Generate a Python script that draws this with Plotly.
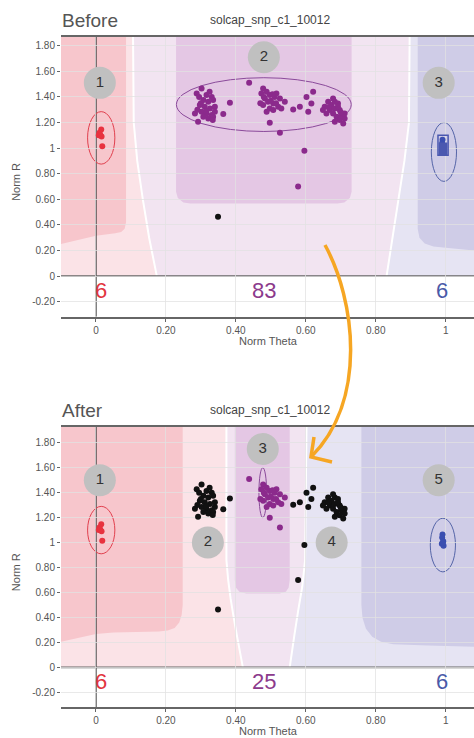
import plotly.graph_objects as go

# ---------------- data ----------------
red_theta = [0.015, 0.010, 0.008, 0.016, 0.012, 0.018]
red_r = [1.146, 1.120, 1.100, 1.090, 1.105, 1.015]

blue_theta = [0.991, 0.990, 0.993, 0.989, 0.994, 0.992]
blue_r = [1.065, 1.040, 1.010, 0.990, 0.975, 1.000]

left_theta = [0.288, 0.302, 0.316, 0.331, 0.307, 0.321, 0.335, 0.297, 0.311, 0.326,
              0.340, 0.302, 0.316, 0.331, 0.283, 0.292, 0.321, 0.335, 0.383, 0.364,
              0.295, 0.340, 0.307, 0.300, 0.315, 0.325, 0.290, 0.334]
left_r = [1.427, 1.466, 1.414, 1.400, 1.375, 1.362, 1.375, 1.336, 1.323, 1.310,
          1.323, 1.284, 1.271, 1.258, 1.271, 1.206, 1.232, 1.245, 1.354, 1.266,
          1.400, 1.284, 1.245, 1.350, 1.290, 1.440, 1.300, 1.220]

mid_theta = [0.438, 0.478, 0.488, 0.473, 0.497, 0.483, 0.516, 0.511, 0.526, 0.492,
             0.507, 0.540, 0.478, 0.497, 0.521, 0.488, 0.507, 0.497, 0.526, 0.480,
             0.500, 0.515, 0.470, 0.530, 0.505]
mid_r = [1.510, 1.466, 1.440, 1.427, 1.414, 1.388, 1.427, 1.400, 1.388, 1.362,
         1.349, 1.362, 1.336, 1.310, 1.323, 1.284, 1.297, 1.198, 1.120, 1.400,
         1.370, 1.350, 1.350, 1.310, 1.420]

right_theta = [0.564, 0.583, 0.602, 0.621, 0.607, 0.616, 0.654, 0.664, 0.673, 0.683,
               0.692, 0.669, 0.683, 0.697, 0.659, 0.678, 0.688, 0.702, 0.711, 0.697,
               0.683, 0.707, 0.649, 0.678, 0.692, 0.711, 0.665, 0.700]
right_r = [1.302, 1.323, 1.400, 1.440, 1.284, 1.349, 1.323, 1.362, 1.336, 1.362,
           1.349, 1.297, 1.310, 1.297, 1.271, 1.271, 1.245, 1.258, 1.232, 1.219,
           1.206, 1.193, 1.297, 1.388, 1.323, 1.271, 1.320, 1.280]

low_theta = [0.596, 0.578]
low_r = [0.980, 0.700]
nocall_theta = [0.349]
nocall_r = [0.463]

before_counts = ["6", "83", "6"]
after_counts = ["6", "25", "6"]
count_theta = [0.015, 0.48, 0.99]
count_colors = ["#e2343f", "#8c3a8c", "#4a5aa8"]

before_labels = ["1", "2", "3"]
before_label_theta = [0.011, 0.48, 0.98]
before_label_r = [1.51, 1.71, 1.51]
after_labels = ["1", "2", "3", "4", "5"]
after_label_theta = [0.011, 0.32, 0.477, 0.674, 0.98]
after_label_r = [1.50, 1.00, 1.75, 1.00, 1.50]

# cluster ellipses: (center theta, center R, half width, half height)
before_ellipses = [(0.015, 1.08, 0.039, 0.205, "#e0404e"),
                   (0.48, 1.34, 0.25, 0.21, "#8a4a9a"),
                   (0.995, 0.97, 0.036, 0.23, "#5565a8")]
after_ellipses = [(0.015, 1.10, 0.039, 0.19, "#e0404e"),
                  (0.477, 1.40, 0.011, 0.20, "#8a4a9a"),
                  (0.992, 0.98, 0.036, 0.215, "#5565a8")]

x_ticks = [0, 0.2, 0.4, 0.6, 0.8, 1.0]
x_ticktext = ["0", "0.20", "0.40", "0.60", "0.80", "1"]
y_ticks = [-0.2, 0, 0.2, 0.4, 0.6, 0.8, 1.0, 1.2, 1.4, 1.6, 1.8]
y_ticktext = ["-0.20", "0", "0.20", "0.40", "0.60", "0.80", "1", "1.20", "1.40", "1.60", "1.80"]

XMIN, XMAX = -0.1, 1.081
TOP_B, BOT_B = 1.868, -0.317
TOP_A, BOT_A = 1.926, -0.320

# region boundaries (theta, R)
B_left_bound = [(0.174, 0), (0.152, 0.3), (0.134, 0.6), (0.118, 0.9), (0.108, 1.2), (0.106, TOP_B)]
B_right_bound = [(0.831, 0), (0.848, 0.3), (0.865, 0.6), (0.882, 0.9), (0.895, 1.2), (0.897, TOP_B)]
B_red = [(XMIN, 0.25), (XMIN, TOP_B), (0.086, TOP_B), (0.086, 0.42), (0.082, 0.37),
         (0.072, 0.345), (0.055, 0.335), (0.0, 0.315)]
B_purple = [(0.229, TOP_B), (0.229, 0.66), (0.234, 0.61), (0.25, 0.575), (0.27, 0.568),
            (0.69, 0.568), (0.71, 0.575), (0.726, 0.61), (0.731, 0.66), (0.731, TOP_B)]
B_blue = [(0.92, TOP_B), (0.92, 0.37), (0.925, 0.3), (0.94, 0.255), (0.965, 0.232),
          (1.0, 0.222), (XMAX, 0.2), (XMAX, TOP_B)]

A_left_bound = [(0.42, 0), (0.41, 0.15), (0.40, 0.3), (0.392, 0.43), (0.385, 0.55),
                (0.378, 0.7), (0.373, 0.86), (0.373, TOP_A)]
A_right_bound = [(0.554, 0), (0.567, 0.25), (0.578, 0.45), (0.59, 0.65), (0.598, 0.86), (0.602, TOP_A)]
A_red = [(XMIN, 0.205), (XMIN, TOP_A), (0.248, TOP_A), (0.248, 0.5), (0.245, 0.42),
         (0.238, 0.36), (0.225, 0.315), (0.205, 0.295), (0.18, 0.288), (0.05, 0.28), (0.0, 0.268)]
A_purple = [(0.397, TOP_A), (0.397, 0.7), (0.40, 0.64), (0.41, 0.605), (0.43, 0.592),
            (0.525, 0.592), (0.543, 0.605), (0.551, 0.64), (0.554, 0.7), (0.554, TOP_A)]
A_blue = [(0.759, TOP_A), (0.759, 0.5), (0.762, 0.4), (0.772, 0.31), (0.79, 0.245),
          (0.815, 0.205), (0.85, 0.185), (0.95, 0.175), (XMAX, 0.165), (XMAX, TOP_A)]

C_RED = "rgb(247,198,204)"
C_LPINK = "rgb(251,227,231)"
C_LAV = "rgb(242,228,241)"
C_PURP = "rgb(228,199,228)"
C_LBLUE = "rgb(230,228,243)"
C_BLUE = "rgb(207,204,231)"

W, H = 474, 738
PLOT_L = 61
B_TOP_PX, B_BOT_PX = 37, 316.7
A_TOP_PX, A_BOT_PX = 427, 707.3

TICKFONT = dict(family="Liberation Sans Narrow, Arial Narrow, Liberation Sans, Arial", size=10, color="#555")
TEXTFONT = "Liberation Sans, Arial, sans-serif"


def path(pts, close=True):
    s = "M " + " L ".join(f"{x},{y}" for x, y in pts)
    return s + (" Z" if close else "")


fig = go.Figure()
shapes = []
annotations = []


def add_panel(xa, ya, top, bot, regions, left_b, right_b, ellipses, pts, labels, counts, extra_rect):
    xr, yr = xa, ya
    # base light regions
    shapes.append(dict(type="path", xref=xr, yref=yr, layer="below", line_width=0, fillcolor=C_LPINK,
                       path=path([(XMIN, 0), (XMIN, top)] + list(reversed(left_b)))))
    shapes.append(dict(type="path", xref=xr, yref=yr, layer="below", line_width=0, fillcolor=C_LAV,
                       path=path(left_b + list(reversed(right_b)))))
    shapes.append(dict(type="path", xref=xr, yref=yr, layer="below", line_width=0, fillcolor=C_LBLUE,
                       path=path(right_b + [(XMAX, top), (XMAX, 0)])))
    for b in (left_b, right_b):
        shapes.append(dict(type="path", xref=xr, yref=yr, layer="below",
                           line=dict(color="white", width=2), path=path(b, close=False)))
    red, purple, blue = regions
    for poly, col in ((red, C_RED), (purple, C_PURP), (blue, C_BLUE)):
        shapes.append(dict(type="path", xref=xr, yref=yr, layer="below", line_width=0,
                           fillcolor=col, path=path(poly)))
    # zero lines
    shapes.append(dict(type="line", xref=xr, yref=yr, x0=0, x1=0, y0=bot, y1=top,
                       layer="below", line=dict(color="#333", width=1.3)))
    shapes.append(dict(type="line", xref=xr, yref=yr, x0=XMIN, x1=XMAX, y0=0, y1=0,
                       layer="below", line=dict(color="#666", width=1.6)))
    for cx, cy, hw, hh, col in ellipses:
        shapes.append(dict(type="circle", xref=xr, yref=yr, x0=cx - hw, x1=cx + hw,
                           y0=cy - hh, y1=cy + hh, layer="below", line=dict(color=col, width=1)))
    if extra_rect:
        shapes.append(dict(type="rect", xref=xr, yref=yr, x0=0.978, x1=1.007, y0=0.945, y1=1.10,
                           layer="above", line=dict(color="#4a58b0", width=1.5), fillcolor="rgba(0,0,0,0)"))
        shapes.append(dict(type="rect", xref=xr, yref=yr, x0=0.980, x1=1.005, y0=0.947, y1=1.044,
                           layer="above", line_width=0, fillcolor="#4a58b0"))
    for tx, ty, col in pts:
        fig.add_trace(go.Scatter(x=tx, y=ty, mode="markers", xaxis=xa, yaxis=ya, showlegend=False,
                                 marker=dict(size=6, color=col, line_width=0), hoverinfo="skip"))
    lt, lx, ly = labels
    fig.add_trace(go.Scatter(x=lx, y=ly, text=lt, mode="markers+text", xaxis=xa, yaxis=ya,
                             showlegend=False, textposition="middle center",
                             marker=dict(size=32, color="rgb(192,192,192)", line_width=0),
                             textfont=dict(family=TEXTFONT, size=15, color="#333"), hoverinfo="skip"))
    for txt, cxv, col in zip(counts, count_theta, count_colors):
        annotations.append(dict(x=cxv, y=-0.115, xref=xr, yref=yr, text=txt, showarrow=False,
                                font=dict(family="Liberation Sans Narrow, Arial Narrow, Liberation Sans",
                                          size=22, color=col)))


before_purple_theta = left_theta + mid_theta + right_theta + low_theta
before_purple_r = left_r + mid_r + right_r + low_r
after_black_theta = left_theta + right_theta + low_theta + nocall_theta
after_black_r = left_r + right_r + low_r + nocall_r

add_panel("x", "y", TOP_B, BOT_B, (B_red, B_purple, B_blue), B_left_bound, B_right_bound, before_ellipses,
          [(red_theta, red_r, "#e8323f"), (before_purple_theta, before_purple_r, "#8b2a8c"),
           (blue_theta, blue_r, "#3b4fb0"), (nocall_theta, nocall_r, "#111")],
          (before_labels, before_label_theta, before_label_r), before_counts, True)

add_panel("x2", "y2", TOP_A, BOT_A, (A_red, A_purple, A_blue), A_left_bound, A_right_bound, after_ellipses,
          [(red_theta, red_r, "#e8323f"), (mid_theta, mid_r, "#8b2a8c"),
           (blue_theta, blue_r, "#3b4fb0"), (after_black_theta, after_black_r, "#111")],
          (after_labels, after_label_theta, after_label_r), after_counts, False)


def px_x(px):
    return px / W


def px_y(py):
    return 1 - py / H


# titles and axis titles
for name, ytop, ybot in (("Before", B_TOP_PX, B_BOT_PX), ("After", A_TOP_PX, A_BOT_PX)):
    annotations.append(dict(x=px_x(60), y=px_y(ytop - 17), xref="paper", yref="paper", text=name,
                            showarrow=False, xanchor="left", yanchor="middle",
                            font=dict(family=TEXTFONT, size=19, color="#555")))
    annotations.append(dict(x=px_x(270), y=px_y(ytop - 17), xref="paper", yref="paper",
                            text="solcap_snp_c1_10012", showarrow=False, xanchor="center", yanchor="middle",
                            font=dict(family=TEXTFONT, size=12, color="#444")))
    annotations.append(dict(x=px_x(16), y=px_y((ytop + ybot) / 2 + 5), xref="paper", yref="paper",
                            text="Norm R", showarrow=False, textangle=-90, xanchor="center", yanchor="middle",
                            font=dict(family=TEXTFONT, size=11, color="#555")))
    annotations.append(dict(x=px_x(268), y=px_y(ybot + 24), xref="paper", yref="paper",
                            text="Norm Theta", showarrow=False, xanchor="center", yanchor="middle",
                            font=dict(family=TEXTFONT, size=11, color="#555")))

# orange arrow (paper coordinates)
arrow_px = [(325, 245), (355, 300), (368, 400), (311, 457)]
ap = [(px_x(x), px_y(y)) for x, y in arrow_px]
shapes.append(dict(type="path", xref="paper", yref="paper", layer="above",
                   line=dict(color="#f6a623", width=3.5),
                   path=f"M {ap[0][0]},{ap[0][1]} C {ap[1][0]},{ap[1][1]} {ap[2][0]},{ap[2][1]} {ap[3][0]},{ap[3][1]}"))
head_px = [(332, 462), (311, 457), (314, 437)]
hp = [(px_x(x), px_y(y)) for x, y in head_px]
shapes.append(dict(type="path", xref="paper", yref="paper", layer="above",
                   line=dict(color="#f6a623", width=3.5),
                   path=f"M {hp[0][0]},{hp[0][1]} L {hp[1][0]},{hp[1][1]} L {hp[2][0]},{hp[2][1]}"))

xaxis_common = dict(range=[XMIN, XMAX], tickvals=x_ticks, ticktext=x_ticktext, tickfont=TICKFONT,
                    ticks="outside", ticklen=3, tickcolor="#666", showgrid=True,
                    gridcolor="rgba(225,225,225,0.75)", gridwidth=1, zeroline=False,
                    showline=True, linecolor="#666", linewidth=2, mirror=True, automargin=False,
                    fixedrange=True)
yaxis_common = dict(tickvals=y_ticks, ticktext=y_ticktext, tickfont=TICKFONT, ticks="outside",
                    ticklen=3, tickcolor="#666", showgrid=True, gridcolor="rgba(225,225,225,0.75)",
                    gridwidth=1, zeroline=False, showline=False, automargin=False, fixedrange=True)

fig.update_layout(
    width=W, height=H, margin=dict(l=0, r=0, t=0, b=0),
    paper_bgcolor="white", plot_bgcolor="white", showlegend=False,
    xaxis=dict(xaxis_common, domain=[PLOT_L / W, 1], anchor="y"),
    yaxis=dict(yaxis_common, domain=[px_y(B_BOT_PX), px_y(B_TOP_PX)], range=[BOT_B, TOP_B], anchor="x"),
    xaxis2=dict(xaxis_common, domain=[PLOT_L / W, 1], anchor="y2"),
    yaxis2=dict(yaxis_common, domain=[px_y(A_BOT_PX), px_y(A_TOP_PX)], range=[BOT_A, TOP_A], anchor="x2"),
    shapes=shapes, annotations=annotations,
)

fig.write_html("out.html")
